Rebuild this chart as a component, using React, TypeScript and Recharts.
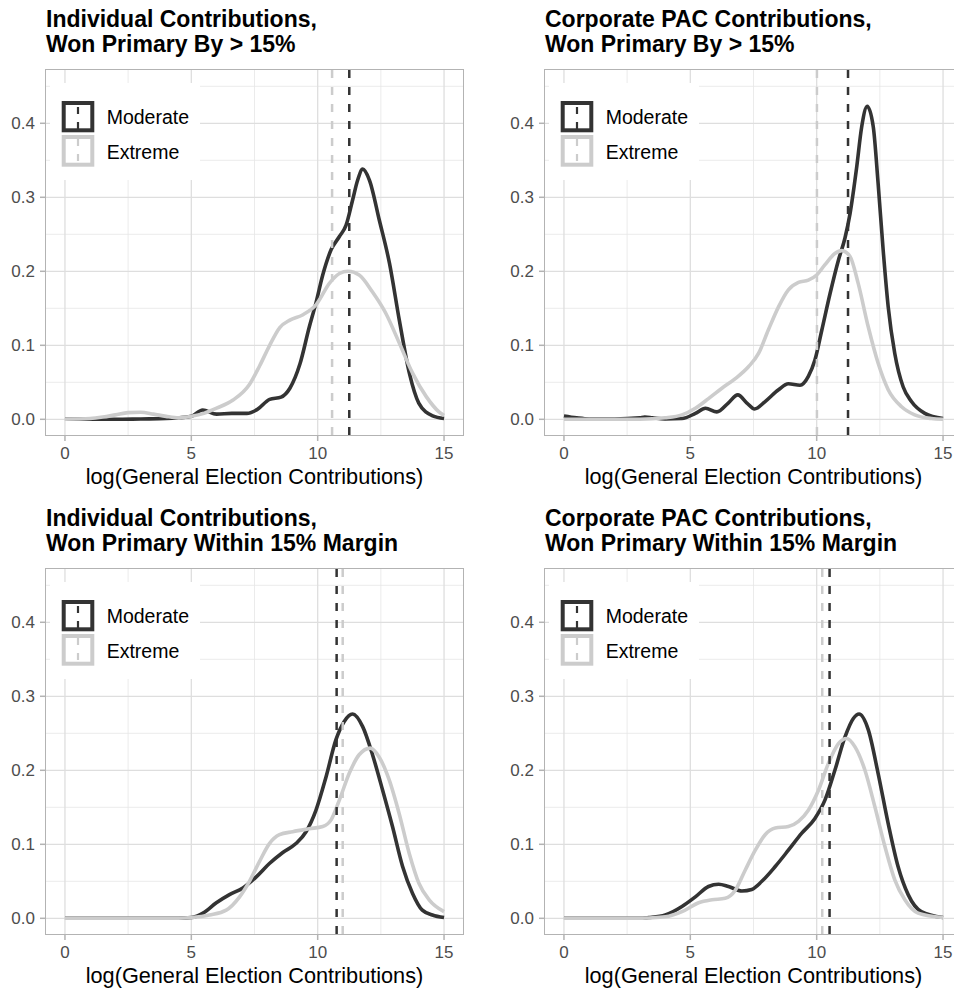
import React from 'react';
import { LineChart, Line, XAxis, YAxis, CartesianGrid, ReferenceLine } from 'recharts';

// ---------- data ----------
const titles = [
  ['Individual Contributions,', 'Won Primary By > 15%'],
  ['Corporate PAC Contributions,', 'Won Primary By > 15%'],
  ['Individual Contributions,', 'Won Primary Within 15% Margin'],
  ['Corporate PAC Contributions,', 'Won Primary Within 15% Margin'],
];
const seriesNames = ['Moderate', 'Extreme'];
const xTicks = [0, 5, 10, 15];
const yTicks = [0, 0.1, 0.2, 0.3, 0.4];
const xMinor = [2.5, 7.5, 12.5];
const yMinor = [0.05, 0.15, 0.25, 0.35, 0.45];
const xAxisTitle = 'log(General Election Contributions)';

// Panel 1: Individual, won by > 15%
const p1ModX = [0, 1, 2, 3, 4, 4.5, 5, 5.45, 6, 6.6, 7.2, 7.6, 8.1, 8.55, 8.9, 9.3, 9.67, 9.93, 10.2, 10.53, 10.86, 11.12, 11.38, 11.58, 11.78, 12.05, 12.44, 12.84, 13.23, 13.63, 14, 14.55, 15];
const p1ModY = [0, 0, 0, 0.0005, 0.001, 0.002, 0.004, 0.0125, 0.007, 0.008, 0.008, 0.013, 0.027, 0.03, 0.042, 0.075, 0.125, 0.157, 0.195, 0.229, 0.247, 0.262, 0.296, 0.323, 0.338, 0.323, 0.269, 0.211, 0.134, 0.062, 0.022, 0.0045, 0.001];
const p1ExtX = [0, 1, 1.5, 2, 2.5, 3, 3.5, 4, 4.5, 5, 5.5, 6, 6.65, 7.3, 7.7, 8.1, 8.5, 8.9, 9.4, 9.94, 10.47, 10.86, 11.2, 11.64, 12.17, 12.7, 13.23, 13.76, 14.29, 14.8, 15];
const p1ExtY = [0, 0.001, 0.003, 0.006, 0.009, 0.0095, 0.007, 0.004, 0.002, 0.004, 0.008, 0.015, 0.026, 0.047, 0.072, 0.1, 0.124, 0.134, 0.141, 0.155, 0.184, 0.197, 0.2, 0.195, 0.172, 0.143, 0.103, 0.062, 0.031, 0.01, 0.005];
const p1Means = [11.25, 10.57];

// Panel 2: Corporate PAC, won by > 15%
const p2ModX = [0, 0.5, 1, 2, 3, 3.2, 3.5, 4, 4.67, 5.2, 5.6, 6.05, 6.5, 6.88, 7.24, 7.54, 7.96, 8.49, 8.88, 9.34, 9.67, 9.93, 10.2, 10.53, 10.86, 11.12, 11.32, 11.58, 11.78, 12.0, 12.24, 12.43, 12.63, 12.83, 13.09, 13.42, 13.75, 14.28, 15];
const p2ModY = [0.0045, 0.002, 0.0005, 0.0005, 0.002, 0.003, 0.002, 0.0005, 0.001, 0.008, 0.015, 0.01, 0.022, 0.033, 0.022, 0.014, 0.024, 0.04, 0.048, 0.046, 0.058, 0.08, 0.12, 0.17, 0.215, 0.245, 0.278, 0.34, 0.395, 0.423, 0.395, 0.319, 0.229, 0.152, 0.089, 0.044, 0.024, 0.008, 0.001];
const p2ExtX = [0, 1, 2, 3, 4, 4.67, 5.2, 5.72, 6.25, 6.78, 7.3, 7.7, 8.09, 8.49, 8.88, 9.28, 9.67, 10.0, 10.33, 10.72, 10.99, 11.32, 11.64, 12.04, 12.43, 12.83, 13.36, 13.88, 14.54, 15];
const p2ExtY = [0, 0, 0, 0, 0.002, 0.006, 0.015, 0.028, 0.042, 0.055, 0.071, 0.089, 0.121, 0.152, 0.175, 0.185, 0.188, 0.195, 0.209, 0.224, 0.228, 0.22, 0.184, 0.125, 0.076, 0.04, 0.017, 0.006, 0.001, 0];
const p2Means = [11.24, 10.01];

// Panel 3: Individual, won within 15%
const p3ModX = [0, 1, 2, 3, 4, 4.5, 5, 5.46, 5.99, 6.51, 7.04, 7.57, 8.09, 8.62, 9.14, 9.54, 9.93, 10.33, 10.72, 11.05, 11.38, 11.78, 12.17, 12.57, 12.96, 13.36, 13.75, 14.14, 14.54, 15];
const p3ModY = [0, 0, 0, 0, 0, 0, 0.001, 0.007, 0.021, 0.032, 0.041, 0.056, 0.074, 0.089, 0.101, 0.117, 0.146, 0.191, 0.241, 0.266, 0.276, 0.259, 0.221, 0.173, 0.124, 0.07, 0.034, 0.011, 0.0045, 0.001];
const p3ExtX = [0, 1, 2, 3, 4, 4.5, 5, 5.72, 6.38, 6.91, 7.3, 7.7, 8.09, 8.49, 9.01, 9.67, 10.2, 10.53, 10.86, 11.25, 11.64, 12.08, 12.43, 12.83, 13.22, 13.62, 14.01, 14.41, 15];
const p3ExtY = [0, 0, 0, 0, 0, 0, 0.001, 0.0045, 0.011, 0.029, 0.05, 0.077, 0.101, 0.113, 0.117, 0.121, 0.124, 0.133, 0.16, 0.196, 0.221, 0.23, 0.218, 0.187, 0.142, 0.088, 0.047, 0.025, 0.009];
const p3Means = [10.75, 10.99];

// Panel 4: Corporate PAC, won within 15%
const p4ModX = [0, 1, 2, 3, 3.36, 4.01, 4.67, 5.2, 5.72, 6.12, 6.51, 7.04, 7.43, 7.83, 8.36, 8.88, 9.41, 9.93, 10.33, 10.72, 11.12, 11.45, 11.68, 12.04, 12.43, 12.83, 13.22, 13.62, 14.14, 15];
const p4ModY = [0, 0, 0, 0, 0.001, 0.0045, 0.016, 0.029, 0.043, 0.046, 0.043, 0.037, 0.039, 0.05, 0.07, 0.092, 0.115, 0.135, 0.16, 0.2, 0.245, 0.27, 0.276, 0.255, 0.196, 0.128, 0.07, 0.032, 0.009, 0.001];
const p4ExtX = [0, 1, 2, 3, 3.36, 4.01, 4.67, 5.33, 5.86, 6.38, 6.78, 7.17, 7.57, 7.96, 8.36, 8.88, 9.28, 9.67, 10.07, 10.46, 10.86, 11.18, 11.51, 11.91, 12.3, 12.7, 13.09, 13.49, 14.01, 15];
const p4ExtY = [0, 0, 0, 0, 0.0005, 0.002, 0.009, 0.021, 0.025, 0.027, 0.038, 0.065, 0.092, 0.113, 0.122, 0.124, 0.131, 0.146, 0.173, 0.209, 0.236, 0.243, 0.232, 0.2, 0.151, 0.097, 0.052, 0.025, 0.007, 0.001];
const p4Means = [10.51, 10.22];

// ---------- styling ----------
const DARK = '#333333';
const LIGHT = '#cccccc';
const FONT = '"Liberation Sans", Arial, Helvetica, sans-serif';
const CELL = 499;
const X_DOMAIN: [number, number] = [-0.75, 15.75];
const Y_DOMAIN: [number, number] = [-0.0212, 0.472];

const toPoints = (xs: number[], ys: number[]) => xs.map((x, i) => ({ x, y: ys[i] }));

function LegendBox() {
  return (
    <div style={{ position: 'absolute', left: 50, top: 83, width: 150, height: 97, background: '#fff' }}>
      <svg width={150} height={97} style={{ position: 'absolute', left: 0, top: 0 }}>
        <rect x={13.7} y={20} width={28.6} height={27.3} fill="#fff" stroke={DARK} strokeWidth={4} />
        <line x1={28} x2={28} y1={24} y2={47} stroke={DARK} strokeWidth={2.2} strokeDasharray="7 8" />
        <rect x={13.7} y={54} width={28.6} height={27.7} fill="#fff" stroke={LIGHT} strokeWidth={4} />
        <line x1={28} x2={28} y1={56} y2={81} stroke={LIGHT} strokeWidth={2.2} strokeDasharray="7 8" />
      </svg>
      {seriesNames.map((name, i) => (
        <div
          key={name}
          style={{
            position: 'absolute',
            left: 56.7,
            top: i === 0 ? 24.2 : 59.2,
            fontFamily: FONT,
            fontSize: 19.5,
            lineHeight: '20px',
            color: '#000',
            whiteSpace: 'nowrap',
          }}
        >
          {name}
        </div>
      ))}
    </div>
  );
}

function Panel(props: {
  title: string[];
  modX: number[];
  modY: number[];
  extX: number[];
  extY: number[];
  means: number[];
  left: number;
  top: number;
}) {
  const mod = toPoints(props.modX, props.modY);
  const ext = toPoints(props.extX, props.extY);
  return (
    <div style={{ position: 'absolute', left: props.left, top: props.top, width: CELL, height: CELL }}>
      {props.title.map((line, i) => (
        <div
          key={i}
          style={{
            position: 'absolute',
            left: 46,
            top: 6.5 + i * 25.5,
            height: 25.5,
            fontFamily: FONT,
            fontWeight: 'bold',
            fontSize: 23,
            lineHeight: '25.5px',
            color: '#000',
            whiteSpace: 'nowrap',
          }}
        >
          {line}
        </div>
      ))}
      <div style={{ position: 'absolute', left: 0, top: 0 }}>
        <LineChart width={CELL} height={CELL} margin={{ top: 70, right: 36, bottom: 0, left: 0 }}>
          <CartesianGrid
            horizontalValues={yMinor}
            verticalValues={xMinor}
            stroke="#e6e6e6"
            strokeWidth={0.8}
          />
          <CartesianGrid
            horizontalValues={yTicks}
            verticalValues={xTicks}
            stroke="#dedede"
            strokeWidth={1.3}
          />
          <XAxis
            type="number"
            dataKey="x"
            domain={X_DOMAIN}
            ticks={xTicks}
            allowDataOverflow
            height={64}
            axisLine={false}
            tickLine={{ stroke: '#b3b3b3', strokeWidth: 1.5 }}
            tickSize={6}
            tickMargin={6}
            tick={{ fill: '#4d4d4d', fontSize: 17, fontFamily: FONT }}
            label={{
              value: xAxisTitle,
              position: 'insideBottom',
              offset: 15.5,
              fill: '#000',
              fontSize: 21.7,
              fontFamily: FONT,
            }}
          />
          <YAxis
            type="number"
            domain={Y_DOMAIN}
            ticks={yTicks}
            allowDataOverflow
            width={46}
            axisLine={false}
            tickLine={{ stroke: '#b3b3b3', strokeWidth: 1.5 }}
            tickSize={6}
            tickMargin={5}
            tickFormatter={(v: number) => v.toFixed(1)}
            tick={{ fill: '#4d4d4d', fontSize: 17, fontFamily: FONT }}
          />
          <Line
            data={mod}
            dataKey="y"
            name={seriesNames[0]}
            type="monotone"
            stroke={DARK}
            strokeWidth={3.6}
            dot={false}
            activeDot={false}
            isAnimationActive={false}
          />
          <Line
            data={ext}
            dataKey="y"
            name={seriesNames[1]}
            type="monotone"
            stroke={LIGHT}
            strokeWidth={3.6}
            dot={false}
            activeDot={false}
            isAnimationActive={false}
          />
          <ReferenceLine x={props.means[1]} stroke={LIGHT} strokeWidth={2.5} strokeDasharray="8 9" />
          <ReferenceLine x={props.means[0]} stroke={DARK} strokeWidth={2.5} strokeDasharray="8 9" />
        </LineChart>
      </div>
      <div
        style={{
          position: 'absolute',
          left: 45.2,
          top: 69.2,
          width: 418.6,
          height: 366.6,
          border: '1.6px solid #b3b3b3',
          boxSizing: 'border-box',
          pointerEvents: 'none',
        }}
      />
      <LegendBox />
    </div>
  );
}

export default function App() {
  return (
    <div
      style={{
        position: 'absolute',
        left: 0,
        top: 0,
        width: 954,
        height: 988,
        overflow: 'hidden',
        background: '#fff',
      }}
    >
      <Panel title={titles[0]} modX={p1ModX} modY={p1ModY} extX={p1ExtX} extY={p1ExtY} means={p1Means} left={0} top={0} />
      <Panel title={titles[1]} modX={p2ModX} modY={p2ModY} extX={p2ExtX} extY={p2ExtY} means={p2Means} left={499} top={0} />
      <Panel title={titles[2]} modX={p3ModX} modY={p3ModY} extX={p3ExtX} extY={p3ExtY} means={p3Means} left={0} top={499} />
      <Panel title={titles[3]} modX={p4ModX} modY={p4ModY} extX={p4ExtX} extY={p4ExtY} means={p4Means} left={499} top={499} />
    </div>
  );
}
